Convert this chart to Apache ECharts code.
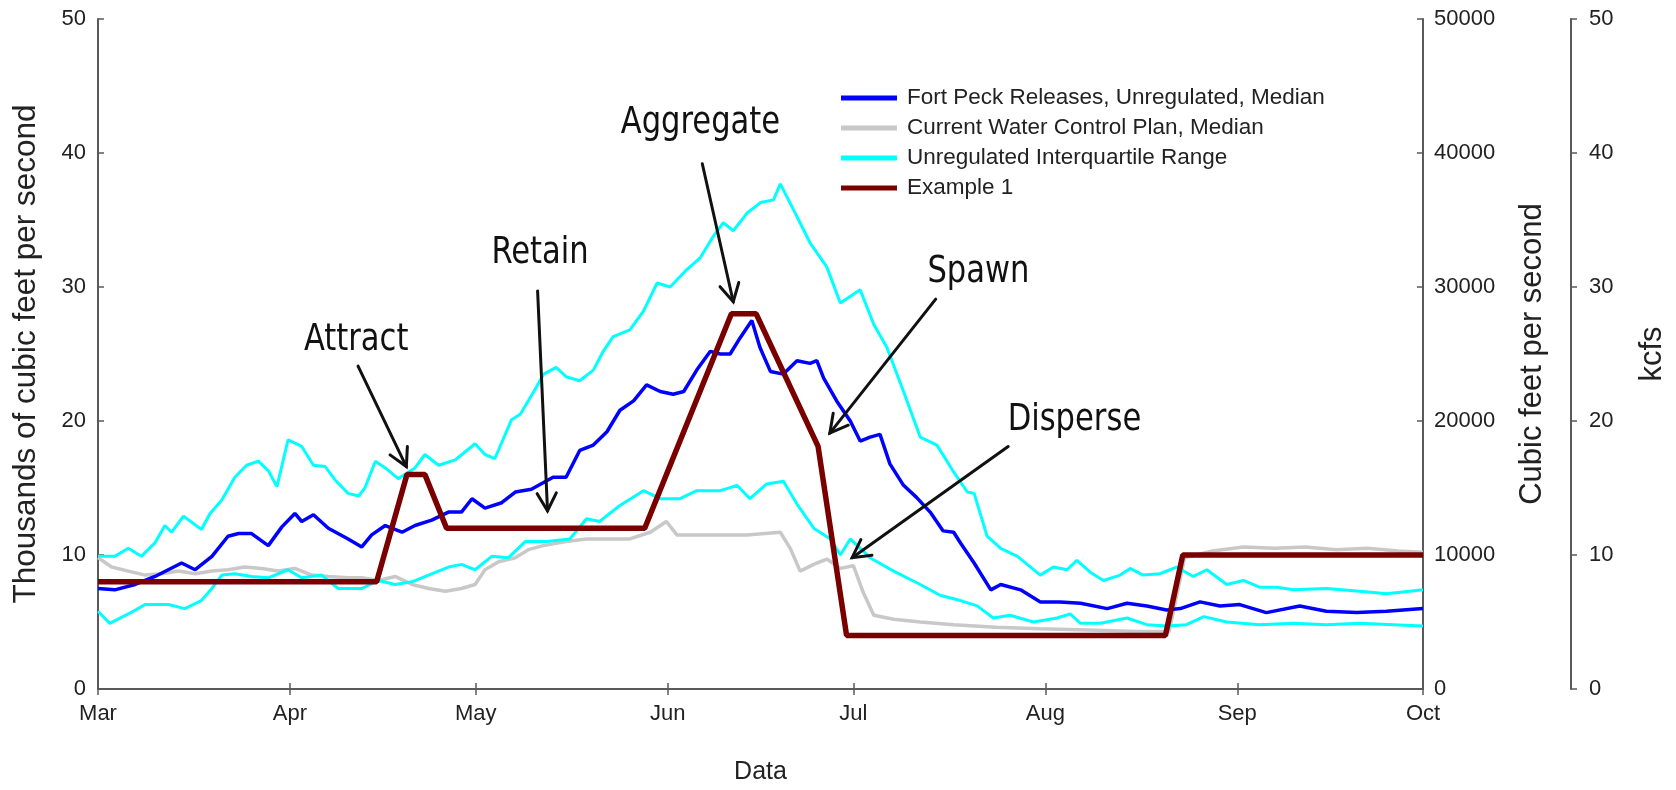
<!DOCTYPE html>
<html><head><meta charset="utf-8">
<script src="https://cdn.jsdelivr.net/npm/echarts@6/dist/echarts.min.js"></script>
<style>html,body{margin:0;padding:0;background:#fff}#c{width:1676px;height:790px}</style>
</head><body><div id="c"></div>
<script>
// ---- data (x = days since 1 March, y = thousands of cfs) ----
const monthNames = ['Jan','Feb','Mar','Apr','May','Jun','Jul','Aug','Sep','Oct','Nov','Dec'];

const medianDays = [0,2.7,6,9.2,13.5,15.7,18.4,21,22.7,24.8,27.5,29.7,31.8,32.9,34.8,37.2,40.4,42.6,44.2,46.4,49.1,51.2,53.9,56.6,58.7,60.4,62.5,65.2,67.4,70,73.5,75.6,77.8,80,82.2,84.3,86.5,88.6,90.8,92.9,94.6,96.7,98.9,100.5,102.1,103.7,105.6,106.9,108.6,110.7,112.9,115,116.1,117.2,119.3,121.5,123.1,124.7,126.3,127.9,130.1,132.2,134.4,136.5,138.2,139.3,141.5,144.2,145.8,149,152.2,155.4,158.7,163,166.2,169.4,172.6,174.8,178,181.2,184.4,188.7,194.1,198.4,203.3,208.1,214];
const medianVals = [7.5,7.4,7.8,8.4,9.4,8.9,9.9,11.4,11.6,11.6,10.7,12.1,13.1,12.5,13.0,12.0,11.2,10.6,11.5,12.2,11.7,12.2,12.6,13.2,13.2,14.2,13.5,13.9,14.7,14.9,15.8,15.8,17.8,18.2,19.2,20.8,21.5,22.7,22.2,22.0,22.2,23.8,25.2,25.0,25.0,26.2,27.5,25.5,23.7,23.5,24.5,24.3,24.5,23.2,21.5,20.0,18.5,18.8,19.0,16.8,15.2,14.3,13.2,11.8,11.7,10.9,9.4,7.4,7.8,7.4,6.5,6.5,6.4,6.0,6.4,6.2,5.9,6.0,6.5,6.2,6.3,5.7,6.2,5.8,5.7,5.8,6.0];

const currentDays = [0,2.2,4.9,7.6,10.3,13,15.7,18.4,21,23.7,26.4,29.1,31.8,34.5,37.2,40.4,42.6,45.3,48,50.7,53.4,56.1,58.7,60.9,62.5,64.7,67.4,69.5,71.9,75.6,78.9,82.2,85.9,89.2,91.8,93.5,96.7,100.5,104.8,110.2,111.8,113.4,115.6,117.7,119.9,122,123.6,125.3,128.5,132.8,138.2,145,152,160,168,173,175.5,180,185,190,195,200,205,210,214];
const currentVals = [9.8,9.1,8.8,8.5,8.6,8.8,8.6,8.8,8.9,9.1,9.0,8.8,9.0,8.5,8.4,8.3,8.3,8.1,8.4,7.8,7.5,7.3,7.5,7.8,8.9,9.5,9.8,10.4,10.7,11.0,11.2,11.2,11.2,11.7,12.5,11.5,11.5,11.5,11.5,11.7,10.5,8.8,9.3,9.7,9.0,9.2,7.2,5.5,5.2,5.0,4.8,4.6,4.5,4.4,4.3,4.3,9.8,10.3,10.6,10.5,10.6,10.4,10.5,10.3,10.2];

const q3Days = [0,2.7,4.9,7,9.2,10.8,11.9,13.8,16.7,18.1,20,22.1,24,25.9,27.5,28.9,30.7,32.9,34.8,36.7,38.3,40.4,42.1,43.1,44.8,46.4,48.5,51.2,52.8,55,57.7,60.9,62.5,64.1,66.8,68.2,70.4,72,74,75.6,77.8,80,81.6,83.2,85.9,88.1,90.3,92.4,95.1,97.3,99.4,101,102.6,104.8,107,109.1,110.2,112.4,115,117.7,119.9,123.1,125.3,127.4,130.1,132.8,135.5,138.2,140.4,141.5,143.6,145.8,148.5,152.2,154.3,156.5,158.1,160.3,162.4,165.1,166.7,168.8,171.5,174.2,176.9,179.1,182.3,185,187.6,190.4,193.1,198.4,203.8,208.1,214];
const q3Vals = [9.9,9.9,10.5,9.9,10.9,12.2,11.7,12.9,11.9,13.1,14.1,15.8,16.7,17.0,16.3,15.1,18.6,18.1,16.7,16.6,15.6,14.6,14.4,15.0,17.0,16.5,15.7,16.5,17.5,16.7,17.1,18.3,17.5,17.2,20.1,20.5,22.2,23.5,24.0,23.3,23.0,23.8,25.2,26.3,26.8,28.2,30.3,30.0,31.3,32.2,33.8,34.8,34.2,35.5,36.3,36.5,37.7,35.7,33.3,31.5,28.8,29.8,27.2,25.5,22.2,18.8,18.2,16.2,14.7,14.6,11.4,10.5,9.9,8.5,9.1,8.9,9.6,8.7,8.1,8.5,9.0,8.5,8.6,9.1,8.4,8.9,7.8,8.1,7.6,7.6,7.4,7.5,7.3,7.1,7.4];

const q1Days = [0,1.9,4.9,7.6,11.4,14,16.7,18.4,20,22.1,24.8,27.5,30.7,32.9,36.1,38.8,42.6,45.3,48,50.7,53.4,56.6,58.7,60.9,63.6,66.3,69,72.5,76.2,78.9,81,84.3,88.1,90.8,94,96.7,100.5,103.2,105.3,108,110.7,112.9,115.6,118.3,119.9,121.5,124.7,128.5,132.8,136,139.3,142,144.6,147.3,151.1,154.9,157,158.7,161.9,166.2,169.4,172.6,175.8,178.6,182.3,187.6,193.1,198.4,203.8,209.2,214];
const q1Vals = [5.8,4.9,5.6,6.3,6.3,6.0,6.6,7.5,8.5,8.6,8.4,8.3,8.9,8.3,8.5,7.5,7.5,8.1,7.8,8.0,8.5,9.1,9.3,8.9,9.9,9.8,11.0,11.0,11.2,12.7,12.5,13.7,14.8,14.2,14.2,14.8,14.8,15.2,14.2,15.3,15.5,13.8,12.0,11.2,10.0,11.2,9.8,8.8,7.8,7.0,6.6,6.2,5.3,5.5,5.0,5.3,5.6,4.9,4.9,5.3,4.8,4.7,4.8,5.4,5.0,4.8,4.9,4.8,4.9,4.8,4.7];

const exampleDays = [0,45,49.9,52.8,56.3,88.3,102.3,106.3,116.3,120.9,172.4,175.2,214];
const exampleVals = [8,8,16,16,12,12,28,28,18.1,4,4,10,10];

const seriesNames = ['Fort Peck Releases, Unregulated, Median','Current Water Control Plan, Median','Unregulated Interquartile Range','Example 1'];

const leftTicks = [0,10,20,30,40,50];
const cfsTicks = [0,10000,20000,30000,40000,50000];

// annotations: label, text position, arrow start, arrow end (days, thousands cfs)
const annotations = [
  {t:'Attract',   tx:41.7,  ty:26.0, x0:42.0,  y0:24.1, x1:49.8,  y1:16.6},
  {t:'Retain',    tx:71.4,  ty:32.5, x0:71.0,  y0:29.7, x1:72.6,  y1:13.3},
  {t:'Aggregate', tx:97.3,  ty:42.2, x0:97.6,  y0:39.2, x1:102.6, y1:28.9},
  {t:'Spawn',     tx:142.2, ty:31.1, x0:135.3, y0:29.1, x1:118.2, y1:19.1},
  {t:'Disperse',  tx:157.7, ty:20.1, x0:147.0, y0:18.1, x1:121.8, y1:9.8}
];

// ---- build ----
const DAY = 86400000;
const T0 = Date.UTC(2001,2,1);
const T1 = Date.UTC(2001,9,1);
function pairs(d,v){ return d.map((x,i)=>[T0 + x*DAY, v[i]]); }

const chart = echarts.init(document.getElementById('c'), null, {renderer:'canvas'});
const FONT = '"Liberation Sans", Arial, Helvetica, sans-serif';
const axisCol = '#5a5a5a';
const txtCol = '#222';

function lineSeries(name, d, v, color, width, z){
  return {name, type:'line', xAxisIndex:0, yAxisIndex:0, data:pairs(d,v), showSymbol:false, symbol:'none',
    lineStyle:{color, width}, itemStyle:{color}, z, animation:false};
}

const option = {
  useUTC:true,
  animation:false,
  backgroundColor:'#fff',
  textStyle:{fontFamily:FONT},
  grid:{left:98, right:252, top:19, bottom:101, containLabel:false},
  legend:{
    orient:'vertical', left:836, top:78, itemWidth:56, itemHeight:5, itemGap:0, icon:'rect',
    data:seriesNames,
    textStyle:{fontSize:22.5, color:txtCol, fontFamily:FONT, lineHeight:30, padding:[0,0,0,5]}
  },
  xAxis:[
    {type:'time', min:T0, max:T1, splitNumber:7, minInterval:28*DAY,
     name:'Data', nameLocation:'middle', nameGap:71,
     nameTextStyle:{fontSize:25, color:txtCol, fontFamily:FONT},
     axisLine:{show:true, lineStyle:{color:axisCol, width:2}},
     axisTick:{show:true, inside:true, length:6, lineStyle:{color:axisCol, width:1.5}},
     axisLabel:{fontSize:22, color:txtCol, margin:14, showMinLabel:true, showMaxLabel:true, hideOverlap:false,
       formatter:function(v){return monthNames[new Date(v).getUTCMonth()];}},
     splitLine:{show:false}},
    {type:'time', min:T0, max:T1, splitNumber:7, minInterval:28*DAY, position:'top',
     axisLine:{show:true, lineStyle:{color:axisCol, width:2}},
     axisTick:{show:true, inside:true, length:6, lineStyle:{color:axisCol, width:1.5}},
     axisLabel:{show:false}, splitLine:{show:false}}
  ],
  yAxis:[
    {type:'value', position:'left', min:leftTicks[0], max:leftTicks[leftTicks.length-1], interval:leftTicks[1]-leftTicks[0],
     name:'Thousands of cubic feet per second', nameLocation:'middle', nameGap:56, nameRotate:90,
     nameTextStyle:{fontSize:31.5, color:txtCol, fontFamily:FONT},
     axisLine:{show:true, lineStyle:{color:axisCol, width:2}},
     axisTick:{show:true, inside:true, length:6, lineStyle:{color:axisCol, width:1.5}},
     axisLabel:{fontSize:22, color:txtCol, margin:12},
     splitLine:{show:false}},
    {type:'value', position:'right', min:cfsTicks[0], max:cfsTicks[cfsTicks.length-1], interval:cfsTicks[1]-cfsTicks[0],
     name:'Cubic feet per second', nameLocation:'middle', nameGap:94, nameRotate:90,
     nameTextStyle:{fontSize:31, color:txtCol, fontFamily:FONT},
     axisLine:{show:true, lineStyle:{color:axisCol, width:2}},
     axisTick:{show:true, inside:true, length:6, lineStyle:{color:axisCol, width:1.5}},
     axisLabel:{fontSize:22, color:txtCol, margin:11, formatter:function(v){return String(v);}},
     splitLine:{show:false}},
    {type:'value', position:'right', offset:148, min:leftTicks[0], max:leftTicks[leftTicks.length-1], interval:leftTicks[1]-leftTicks[0],
     name:'kcfs', nameLocation:'middle', nameGap:66, nameRotate:90,
     nameTextStyle:{fontSize:31, color:txtCol, fontFamily:FONT},
     axisLine:{show:true, lineStyle:{color:axisCol, width:2}},
     axisTick:{show:true, inside:false, length:6, lineStyle:{color:axisCol, width:1.5}},
     axisLabel:{fontSize:22, color:txtCol, margin:18},
     splitLine:{show:false}}
  ],
  series:[
    lineSeries(seriesNames[1], currentDays, currentVals, '#c8c8c8', 3.5, 2),
    lineSeries(seriesNames[2], q3Days, q3Vals, '#00ffff', 3, 3),
    lineSeries(seriesNames[2], q1Days, q1Vals, '#00ffff', 3, 3),
    lineSeries(seriesNames[0], medianDays, medianVals, '#0000ff', 3.5, 4),
    lineSeries(seriesNames[3], exampleDays, exampleVals, '#7a0000', 5.5, 5)
  ]
};
chart.setOption(option);

// annotation arrows & labels placed through the chart's own coordinate system
function px(d, v){ return chart.convertToPixel({xAxisIndex:0, yAxisIndex:0}, [T0 + d*DAY, v]); }
const g = [];
const ANN_FONT = '"Liberation Sans Narrow", "DejaVu Sans Condensed", "Liberation Sans", sans-serif';
annotations.forEach(a=>{
  const p = px(a.tx, a.ty), s = px(a.x0, a.y0), e = px(a.x1, a.y1);
  g.push({type:'text', x:p[0], y:p[1], z:100, scaleY:1.12,
    style:{text:a.t, font:'34px ' + ANN_FONT, fill:'#111', textAlign:'center', textVerticalAlign:'middle'}});
  g.push({type:'line', z:100, shape:{x1:s[0], y1:s[1], x2:e[0], y2:e[1]},
    style:{stroke:'#111', lineWidth:3, lineCap:'round'}});
  const ang = Math.atan2(s[1]-e[1], s[0]-e[0]);
  const L = 20, spread = 0.5;
  const h1 = [e[0] + L*Math.cos(ang+spread), e[1] + L*Math.sin(ang+spread)];
  const h2 = [e[0] + L*Math.cos(ang-spread), e[1] + L*Math.sin(ang-spread)];
  g.push({type:'polyline', z:100, shape:{points:[h1, e, h2]},
    style:{stroke:'#111', lineWidth:3, fill:null, lineJoin:'miter', lineCap:'round'}});
});
chart.setOption({graphic:g});
</script>
</body></html>
